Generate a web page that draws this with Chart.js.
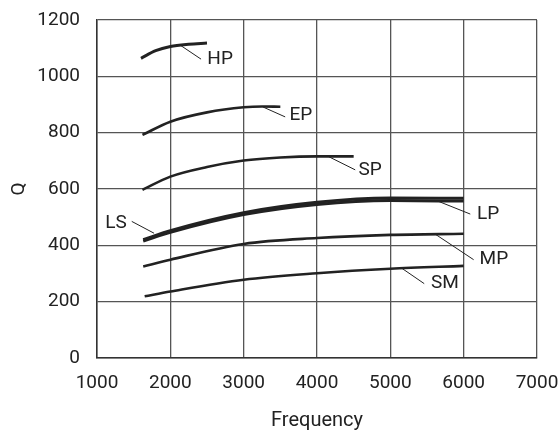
<!DOCTYPE html>
<html>
<head>
<meta charset="utf-8">
<script src="https://cdn.jsdelivr.net/npm/chart.js@4/dist/chart.umd.min.js"></script>
<style>
  html, body { margin: 0; padding: 0; background: #fff; }
  #wrap { width: 558px; height: 435px; }
</style>
</head>
<body>
<div id="wrap"><canvas id="myChart" width="558" height="435"></canvas></div>
<script>
// curves: [frequency, Q]
hp = [[1600, 1064], [1800, 1091], [2000, 1106], [2250, 1114], [2500, 1118]];
ep = [[1620, 792], [2000, 839], [2500, 872], [3000, 890], [3250, 893], [3500, 892]];
sp = [[1620, 597], [2000, 644], [2500, 678], [3000, 701], [3500, 712], [4000, 716], [4500, 716]];
ls = [[1630, 420], [2000, 452], [3000, 516], [4000, 553], [5000, 568], [6000, 567]];
lp = [[1630, 415], [2000, 446], [3000, 509], [4000, 545], [5000, 559], [6000, 557]];
mp = [[1630, 325], [2000, 349], [3000, 405], [4000, 426], [5000, 437], [6000, 441]];
sm = [[1650, 219], [2000, 236], [3000, 278], [4000, 301], [5000, 317], [6000, 327]];

xTicks = [1000, 2000, 3000, 4000, 5000, 6000, 7000];
yTicks = [0, 200, 400, 600, 800, 1000, 1200];

// callout labels: text, leader line (data coords), text anchor
callouts = [
    { text: "HP", line: [2133, 1111, 2419, 1061], at: [2505, 1062], align: "left" },
    { text: "EP", line: [3265, 891, 3566, 856], at: [3624, 863], align: "left" },
    { text: "SP", line: [4135, 718, 4521, 668], at: [4566, 668], align: "left" },
    { text: "LS", line: [1474, 485, 1778, 443], at: [1405, 480], align: "right" },
    { text: "LP", line: [5658, 556, 6090, 511], at: [6182, 512], align: "left" },
    { text: "MP", line: [5622, 438, 6136, 349], at: [6217, 349], align: "left" },
    { text: "SM", line: [5149, 320, 5462, 264], at: [5554, 267], align: "left" }
];

var FONT = "Roboto, 'Liberation Sans', sans-serif";
var INK = "#222";

function pts(arr) {
    return arr.map(function (p) { return { x: p[0], y: p[1] }; });
}

function curve(label, arr, w) {
    return {
        label: label,
        data: pts(arr),
        borderColor: INK,
        borderWidth: w,
        pointRadius: 0,
        fill: false,
        cubicInterpolationMode: 'monotone'
    };
}

var calloutPlugin = {
    id: 'callouts',
    afterDatasetsDraw: function (chart) {
        var ctx = chart.ctx, sx = chart.scales.x, sy = chart.scales.y;
        ctx.save();
        ctx.strokeStyle = INK;
        ctx.lineWidth = 1;
        ctx.fillStyle = INK;
        ctx.font = "19px " + FONT;
        ctx.textBaseline = "middle";
        callouts.forEach(function (c) {
            ctx.beginPath();
            ctx.moveTo(sx.getPixelForValue(c.line[0]), sy.getPixelForValue(c.line[1]));
            ctx.lineTo(sx.getPixelForValue(c.line[2]), sy.getPixelForValue(c.line[3]));
            ctx.stroke();
            ctx.textAlign = c.align;
            ctx.fillText(c.text, sx.getPixelForValue(c.at[0]), sy.getPixelForValue(c.at[1]));
        });
        ctx.restore();
    }
};

Chart.defaults.font.family = FONT;
Chart.defaults.font.size = 19;
Chart.defaults.color = INK;

var ctx = document.getElementById("myChart").getContext('2d');
var myChart = new Chart(ctx, {
    type: 'line',
    data: {
        datasets: [
            curve("HP", hp, 3),
            curve("EP", ep, 2.6),
            curve("SP", sp, 2.6),
            curve("LS", ls, 3),
            curve("LP", lp, 3),
            curve("MP", mp, 2.6),
            curve("SM", sm, 2.6)
        ]
    },
    options: {
        responsive: false,
        animation: false,
        layout: { padding: { left: 0, top: 20, right: 21, bottom: 0 } },
        plugins: {
            legend: { display: false },
            tooltip: { enabled: false }
        },
        scales: {
            x: {
                type: 'linear',
                min: 1000,
                max: 7000,
                afterBuildTicks: function (axis) {
                    axis.ticks = xTicks.map(function (v) { return { value: v }; });
                },
                ticks: { padding: 14, maxRotation: 0, callback: function (v) { return String(v); } },
                grid: { color: '#555', lineWidth: 1.3, drawTicks: false },
                border: { color: '#333', width: 1.5 },
                title: { display: true, text: 'Frequency', font: { size: 20 }, padding: { top: 0, bottom: 2 } },
                afterFit: function (axis) {
                    axis.height = 77;
                    axis.paddingLeft = 0;
                    axis.paddingRight = 0;
                }
            },
            y: {
                min: 0,
                max: 1200,
                afterBuildTicks: function (axis) {
                    axis.ticks = yTicks.map(function (v) { return { value: v }; });
                },
                ticks: { padding: 17, callback: function (v) { return String(v); } },
                grid: { color: '#555', lineWidth: 1.3, drawTicks: false },
                border: { color: '#333', width: 1.5 },
                title: { display: true, text: 'Q', padding: { top: 8, bottom: 0 } },
                afterFit: function (axis) {
                    axis.width = 97;
                    axis.paddingTop = 0;
                    axis.paddingBottom = 0;
                }
            }
        }
    },
    plugins: [calloutPlugin]
});
</script>
</body>
</html>
